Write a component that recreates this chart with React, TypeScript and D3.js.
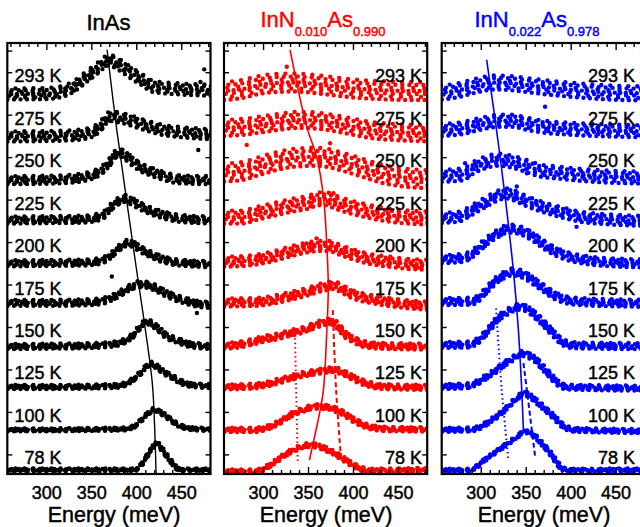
import React from 'react';
import * as d3 from 'd3';

type Pt = [number, number];

// Temperatures (index 0 = bottom curve)
const temps = ['78 K', '100 K', '125 K', '150 K', '175 K', '200 K', '225 K', '250 K', '275 K', '293 K'];
const xMajorTicks = [300, 350, 400, 450];
const yTickUnits = [0.35, 1.35, 2.35, 3.35, 4.35, 5.35, 6.35, 7.35, 8.35, 9.35, 9.86];

// InAs spectra: [energy meV, normalized intensity relative to curve offset]
const inasCurves: Pt[][] = [
  [[255,0],[300,0],[350,0],[395,0],[400,0.02],[405,0.12],[410,0.28],[415,0.45],[420,0.6],[422,0.63],[425,0.57],[430,0.42],[435,0.28],[440,0.14],[445,0.03],[450,0],[485,0]],
  [[255,-0.06],[300,-0.06],[350,-0.05],[385,-0.04],[395,0.0],[400,0.07],[405,0.17],[410,0.28],[415,0.37],[419,0.42],[425,0.37],[430,0.3],[435,0.22],[440,0.14],[445,0.07],[450,0.02],[460,-0.03],[485,-0.05]],
  [[255,-0.05],[300,-0.05],[350,-0.04],[380,-0.02],[390,0.05],[400,0.2],[405,0.3],[410,0.42],[415,0.5],[420,0.46],[425,0.38],[430,0.3],[440,0.18],[450,0.06],[460,0.0],[485,-0.03]],
  [[255,-0.1],[300,-0.09],[340,-0.08],[370,-0.05],[385,0.02],[395,0.15],[403,0.35],[411,0.49],[418,0.42],[425,0.3],[433,0.15],[445,0.05],[455,-0.03],[470,-0.08],[485,-0.1]],
  [[255,-0.07],[300,-0.07],[340,-0.06],[360,-0.03],[375,0.08],[385,0.2],[395,0.32],[402,0.37],[410,0.36],[418,0.31],[430,0.18],[440,0.08],[455,-0.02],[465,-0.08],[485,-0.12]],
  [[255,-0.14],[300,-0.13],[340,-0.12],[360,-0.08],[370,0.03],[378,0.18],[385,0.3],[391,0.35],[397,0.3],[404,0.2],[415,0.08],[426,-0.02],[440,-0.1],[460,-0.14],[485,-0.16]],
  [[255,-0.12],[300,-0.11],[340,-0.1],[355,-0.06],[365,0.03],[372,0.2],[380,0.33],[386,0.39],[395,0.32],[405,0.2],[418,0.08],[430,0.0],[448,-0.08],[485,-0.12]],
  [[255,-0.18],[300,-0.17],[330,-0.14],[350,-0.06],[360,0.04],[370,0.25],[375,0.4],[380,0.48],[386,0.42],[396,0.25],[405,0.12],[415,0.03],[430,-0.08],[448,-0.16],[485,-0.18]],
  [[255,-0.15],[300,-0.14],[330,-0.12],[350,-0.05],[360,0.1],[367,0.28],[372,0.33],[380,0.3],[390,0.25],[400,0.18],[415,0.08],[430,0.0],[450,-0.05],[485,-0.1]],
  [[255,-0.15],[300,-0.14],[315,-0.1],[325,-0.03],[335,0.1],[345,0.27],[355,0.43],[362,0.56],[369,0.65],[376,0.6],[385,0.48],[395,0.33],[405,0.2],[418,0.03],[440,-0.02],[485,-0.06]],
];

// InN0.010As0.990 spectra
const inn010Curves: Pt[][] = [
  [[255,-0.04],[290,-0.04],[300,0.02],[310,0.15],[320,0.3],[330,0.43],[340,0.53],[350,0.58],[358,0.57],[368,0.5],[378,0.4],[388,0.27],[398,0.13],[408,0.03],[418,-0.02],[485,0.0]],
  [[255,-0.06],[290,-0.06],[305,0.0],[315,0.09],[322,0.18],[330,0.29],[338,0.37],[345,0.42],[352,0.47],[360,0.49],[368,0.48],[375,0.46],[382,0.4],[389,0.33],[396,0.23],[404,0.13],[412,0.05],[420,0.0],[440,-0.04],[485,-0.05]],
  [[255,-0.05],[280,-0.04],[300,0.0],[315,0.08],[330,0.17],[345,0.25],[360,0.31],[372,0.35],[378,0.36],[385,0.32],[395,0.22],[405,0.11],[415,0.03],[430,-0.04],[485,-0.06]],
  [[255,-0.08],[270,-0.06],[285,0.0],[300,0.08],[315,0.14],[330,0.22],[345,0.3],[355,0.38],[365,0.46],[376,0.49],[383,0.38],[390,0.2],[400,0.07],[410,-0.03],[430,-0.08],[485,-0.1]],
  [[255,-0.06],[290,-0.05],[310,0.0],[325,0.07],[335,0.12],[350,0.2],[360,0.27],[370,0.32],[378,0.35],[386,0.28],[395,0.17],[405,0.09],[420,0.02],[440,-0.05],[460,-0.1],[485,-0.14]],
  [[255,-0.1],[280,-0.08],[300,-0.02],[320,0.08],[335,0.17],[350,0.24],[362,0.27],[372,0.27],[385,0.18],[400,0.07],[420,-0.04],[440,-0.1],[460,-0.15],[485,-0.17]],
  [[255,-0.05],[275,-0.05],[295,0.05],[315,0.15],[330,0.22],[350,0.3],[362,0.38],[370,0.38],[380,0.3],[395,0.2],[410,0.12],[430,0.03],[455,-0.04],[485,-0.07]],
  [[255,0.0],[275,0.03],[295,0.15],[315,0.27],[335,0.35],[355,0.37],[370,0.35],[385,0.27],[400,0.18],[415,0.08],[430,-0.02],[450,-0.1],[485,-0.16]],
  [[255,0.05],[280,0.08],[300,0.14],[320,0.2],[340,0.24],[360,0.22],[380,0.16],[400,0.08],[420,0.0],[450,-0.05],[485,-0.08]],
  [[255,-0.08],[275,-0.04],[295,0.06],[315,0.11],[335,0.12],[355,0.09],[375,0.04],[400,-0.02],[430,-0.06],[460,-0.08],[485,-0.08]],
];

// InN0.022As0.978 spectra
const inn022Curves: Pt[][] = [
  [[255,-0.01],[285,-0.01],[292,0.03],[300,0.17],[310,0.33],[320,0.48],[330,0.63],[340,0.78],[348,0.9],[353,0.88],[360,0.78],[368,0.6],[376,0.41],[383,0.2],[390,0.03],[400,-0.01],[485,0.0]],
  [[255,-0.06],[290,-0.05],[298,0.0],[305,0.08],[312,0.18],[320,0.3],[328,0.45],[335,0.6],[342,0.73],[348,0.8],[354,0.74],[362,0.6],[370,0.45],[377,0.32],[385,0.15],[392,0.02],[405,-0.06],[485,-0.09]],
  [[255,-0.04],[285,-0.02],[295,0.05],[305,0.18],[315,0.32],[325,0.48],[335,0.62],[345,0.74],[352,0.7],[360,0.6],[368,0.42],[376,0.24],[384,0.06],[395,-0.05],[485,-0.08]],
  [[255,-0.06],[285,-0.05],[295,0.02],[302,0.15],[310,0.35],[318,0.55],[326,0.68],[334,0.78],[341,0.84],[350,0.8],[358,0.68],[366,0.52],[373,0.37],[382,0.17],[391,0.0],[405,-0.07],[485,-0.09]],
  [[255,-0.04],[290,-0.03],[300,0.1],[308,0.28],[316,0.45],[325,0.58],[335,0.66],[343,0.63],[351,0.55],[360,0.42],[368,0.3],[376,0.18],[385,0.07],[395,0.0],[420,-0.05],[485,-0.08]],
  [[255,-0.04],[280,-0.01],[292,0.12],[300,0.27],[310,0.45],[320,0.58],[330,0.68],[340,0.66],[350,0.58],[360,0.45],[372,0.27],[385,0.12],[398,0.02],[420,-0.07],[450,-0.12],[485,-0.14]],
  [[255,-0.07],[275,-0.04],[290,0.12],[305,0.3],[318,0.45],[328,0.51],[338,0.45],[348,0.35],[360,0.25],[373,0.16],[390,0.06],[410,-0.04],[440,-0.1],[485,-0.14]],
  [[255,-0.08],[280,-0.04],[292,0.12],[305,0.24],[320,0.3],[335,0.25],[348,0.17],[365,0.05],[385,0.0],[420,-0.07],[485,-0.12]],
  [[255,0.0],[280,0.05],[300,0.15],[320,0.22],[335,0.22],[350,0.15],[370,0.08],[400,0.03],[430,0.0],[485,-0.03]],
  [[255,-0.12],[275,-0.06],[295,0.05],[315,0.12],[335,0.1],[355,0.05],[375,0.0],[400,-0.05],[430,-0.1],[485,-0.14]],
];

// Scatter spread of each spectrum (px), index as temps
const inasNoise = [1.2, 1.5, 2, 2.5, 3, 3, 3.5, 4, 5, 5.5];
const inn010Noise = [2, 2.2, 2.5, 3, 4, 5, 6.5, 9, 8, 9];
const inn022Noise = [1.5, 2, 2.5, 3, 3.5, 4, 5, 6, 6, 7];

// Peak-position guide lines: [energy, offset units]
const inasPeakLine: Pt[] = [[367,9.89],[377.8,8.0],[398.2,4.94],[417,2.1],[419.5,1.2],[421.5,-0.1]];
const inn010PeakLine: Pt[] = [[329.5,9.89],[348,8.08],[359,7.37],[366.6,6.43],[370.4,5.25],[372,4.31],[370.4,3.29],[366.6,1.88],[363,1.41],[351,0.23]];
const inn010Dotted: Pt[] = [[335,3.1],[338,0.18]];
const inn010Dashed: Pt[] = [[377,3.76],[380.7,1.88],[386.3,0.23]];
const inn022PeakLine: Pt[] = [[306,9.65],[317,8.0],[326.5,6.43],[335.7,4.7],[341.3,3.29],[345,1.88],[347,0.87]];
const inn022Dotted: Pt[] = [[316.5,3.8],[322.8,1.88],[330.2,0.23]];
const inn022Dashed: Pt[] = [[346.9,2.51],[350.7,1.88],[359.9,0.31]];

// Isolated points
const inasOutliers: Pt[] = [[475,9.43],[470.8,9.13],[468.4,7.53],[372.3,4.55],[466.9,3.69]];
const inn010Outliers: Pt[] = [[325.8,9.49],[281.3,7.65],[374,7.69],[359,5.45],[348,5.33],[377.7,6.51]];
const inn022Outliers: Pt[] = [[371,8.55],[282,7.22],[350.7,6.98],[406,5.72],[339.5,6.67]];

const W = 640, H = 527, TOP = 43, BOTTOM = 474;
const FONT = 'Liberation Sans, Arial, Helvetica, sans-serif';
const X_DOMAIN: [number, number] = [256, 482];

const yScale = d3.scaleLinear().domain([-0.1, 10.05]).range([BOTTOM, TOP]);

// dot-row rendering style for scattered measurement points
const rows = [
  { f: -1, dx: 0, period: 9, off: 0 },
  { f: -0.66, dx: 1.3, period: 7, off: 3 },
  { f: -0.33, dx: -0.8, period: 11, off: 6 },
  { f: 0, dx: 0.5, period: 5.5, off: 1 },
  { f: 0.33, dx: -1.2, period: 8, off: 4 },
  { f: 0.66, dx: 0.9, period: 10, off: 2 },
  { f: 1, dx: -0.4, period: 6.5, off: 5 },
];

type GuideLine = { pts: Pt[]; dash?: string; width: number };

interface PanelProps {
  id: string;
  left: number;
  color: string;
  curves: Pt[][];
  noise: number[];
  guides: GuideLine[];
  outliers: Pt[];
  labelX: number;
  axisTitleX: number;
  title: React.ReactNode;
}

const textStroke = (c: string) => ({ stroke: c, strokeWidth: 0.45 });

function Panel({ id, left, color, curves, noise, guides, outliers, labelX, axisTitleX, title }: PanelProps) {
  const width = 203.2;
  const x = d3.scaleLinear().domain(X_DOMAIN).range([left, left + width]);
  const right = left + width;
  const curveLine = d3.line<Pt>().x(d => x(d[0])).curve(d3.curveMonotoneX);
  const guideLine = d3.line<Pt>().x(d => x(d[0])).y(d => yScale(d[1])).curve(d3.curveCatmullRom.alpha(0.5));
  const minor = d3.range(260, 481, 10);
  return (
    <g>
      <defs>
        <clipPath id={`clip-${id}`}>
          <rect x={left} y={TOP} width={width} height={BOTTOM - TOP} />
        </clipPath>
      </defs>
      <g clipPath={`url(#clip-${id})`}>
        {curves.map((c, i) => {
          const d = curveLine.y(p => yScale(i + p[1]))(c) || '';
          const s = noise[i];
          return (
            <g key={i}>
              {rows.map((r, k) => (
                <path key={k} d={d} transform={`translate(${r.dx},${r.f * s})`} fill="none" stroke={color}
                  strokeWidth={4.4} strokeLinecap="round" strokeDasharray={`0 ${r.period}`} strokeDashoffset={r.off} />
              ))}
            </g>
          );
        })}
        {outliers.map((p, i) => (
          <circle key={i} cx={x(p[0])} cy={yScale(p[1])} r={2.2} fill={color} />
        ))}
        {guides.map((g, i) => (
          <path key={i} d={guideLine(g.pts) || ''} fill="none" stroke={color} strokeWidth={g.width}
            strokeDasharray={g.dash} />
        ))}
      </g>
      {minor.map(t => {
        const major = xMajorTicks.includes(t);
        const len = major ? 7 : 4;
        return (
          <g key={t} stroke="#000" strokeWidth={1.4}>
            <line x1={x(t)} x2={x(t)} y1={TOP} y2={TOP + len} />
            <line x1={x(t)} x2={x(t)} y1={BOTTOM} y2={BOTTOM - len} />
          </g>
        );
      })}
      {yTickUnits.map((u, i) => (
        <g key={i} stroke="#000" strokeWidth={1.4}>
          <line x1={left} x2={left + 5} y1={yScale(u)} y2={yScale(u)} />
          <line x1={right} x2={right - 5} y1={yScale(u)} y2={yScale(u)} />
        </g>
      ))}
      <rect x={left} y={TOP} width={width} height={BOTTOM - TOP} fill="none" stroke="#000" strokeWidth={2.2} />
      {temps.map((t, i) => (
        <text key={t} x={labelX} y={yScale(i + 0.35) + 9.5} textAnchor="end" fontSize={18} fontFamily={FONT} fill="#000" {...textStroke('#000')}>{t}</text>
      ))}
      {xMajorTicks.map(t => (
        <text key={t} x={x(t)} y={499} textAnchor="middle" fontSize={18} fontFamily={FONT} fill="#000" {...textStroke('#000')}>{t}</text>
      ))}
      <text x={axisTitleX} y={522} textAnchor="middle" fontSize={21.5} fontFamily={FONT} fill="#000" {...textStroke('#000')}>Energy (meV)</text>
      {title}
    </g>
  );
}

export default function App() {
  const red = '#ff0000';
  const blue = '#0000ff';
  return (
    <svg width={W} height={H} viewBox={`0 0 ${W} ${H}`} style={{ position: 'absolute', left: 0, top: 0, background: '#fff' }}>
      <rect x={0} y={0} width={W} height={H} fill="#fff" />
      <Panel id="p1" left={7.3} color="#000" curves={inasCurves} noise={inasNoise}
        guides={[{ pts: inasPeakLine, width: 1.4 }]} outliers={inasOutliers}
        labelX={61.5} axisTitleX={114}
        title={<text x={108.5} y={29.5} textAnchor="middle" fontSize={22} fontFamily={FONT} fill="#000" {...textStroke('#000')}>InAs</text>} />
      <Panel id="p2" left={224} color={red} curves={inn010Curves} noise={inn010Noise}
        guides={[{ pts: inn010PeakLine, width: 1.6 }, { pts: inn010Dotted, width: 2, dash: '1.5 3' }, { pts: inn010Dashed, width: 2, dash: '5 3' }]}
        outliers={inn010Outliers} labelX={422} axisTitleX={326}
        title={<text x={323} y={26.7} textAnchor="middle" fontSize={22} fontFamily={FONT} fill={red} {...textStroke(red)}>InN<tspan fontSize={13} dy={9}>0.010</tspan><tspan dy={-9}>As</tspan><tspan fontSize={13} dy={9}>0.990</tspan></text>} />
      <Panel id="p3" left={441.7} color={blue} curves={inn022Curves} noise={inn022Noise}
        guides={[{ pts: inn022PeakLine, width: 1.6 }, { pts: inn022Dotted, width: 2, dash: '1.5 3' }, { pts: inn022Dashed, width: 2, dash: '5 3' }]}
        outliers={inn022Outliers} labelX={635} axisTitleX={544}
        title={<text x={537} y={26.7} textAnchor="middle" fontSize={22} fontFamily={FONT} fill={blue} {...textStroke(blue)}>InN<tspan fontSize={13} dy={9}>0.022</tspan><tspan dy={-9}>As</tspan><tspan fontSize={13} dy={9}>0.978</tspan></text>} />
    </svg>
  );
}
